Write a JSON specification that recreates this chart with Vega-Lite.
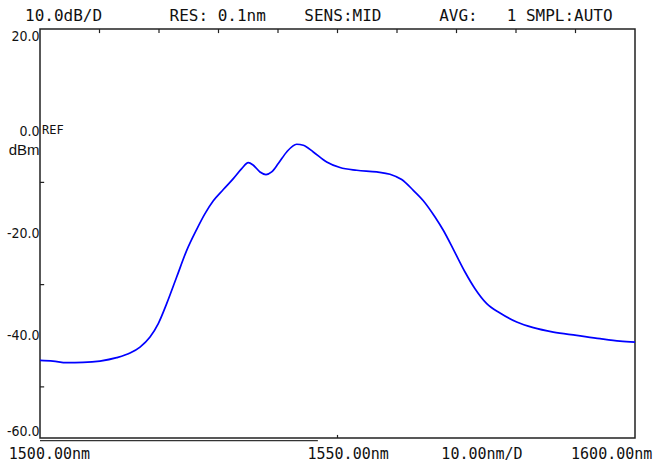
{
  "$schema": "https://vega.github.io/schema/vega-lite/v6.json",
  "autosize": "none",
  "width": 595,
  "height": 409,
  "padding": {"left": 40, "top": 29, "right": 19, "bottom": 27},
  "background": "white",
  "title": {
    "text": "10.0dB/D\u00a0\u00a0\u00a0\u00a0\u00a0\u00a0\u00a0RES:\u00a00.1nm\u00a0\u00a0\u00a0\u00a0SENS:MID\u00a0\u00a0\u00a0\u00a0\u00a0\u00a0AVG:\u00a0\u00a0\u00a01\u00a0SMPL:AUTO",
    "anchor": "start",
    "frame": "group",
    "dx": -15,
    "dy": 18,
    "font": "DejaVu Sans Mono",
    "fontSize": 16,
    "fontWeight": "normal",
    "color": "#111",
    "offset": 6,
    "baseline": "bottom"
  },
  "config": {
    "view": {"stroke": "#222", "strokeWidth": 1.5},
    "axis": {"grid": false}
  },
  "datasets": {
    "spectrum": [
      {"wl": 1500.0, "db": -44.81},
      {"wl": 1502.18, "db": -44.95},
      {"wl": 1504.49, "db": -45.26},
      {"wl": 1507.23, "db": -45.21},
      {"wl": 1510.08, "db": -44.95},
      {"wl": 1512.89, "db": -44.29},
      {"wl": 1515.13, "db": -43.39},
      {"wl": 1516.81, "db": -42.21},
      {"wl": 1518.49, "db": -40.25},
      {"wl": 1519.88, "db": -37.63},
      {"wl": 1521.29, "db": -33.72},
      {"wl": 1522.97, "db": -28.51},
      {"wl": 1524.66, "db": -23.29},
      {"wl": 1526.34, "db": -19.18},
      {"wl": 1527.73, "db": -16.11},
      {"wl": 1529.13, "db": -13.6},
      {"wl": 1530.81, "db": -11.4},
      {"wl": 1532.49, "db": -9.26},
      {"wl": 1533.9, "db": -7.3},
      {"wl": 1535.01, "db": -6.13},
      {"wl": 1535.85, "db": -6.65},
      {"wl": 1536.97, "db": -7.96},
      {"wl": 1537.98, "db": -8.47},
      {"wl": 1538.94, "db": -7.96},
      {"wl": 1540.05, "db": -6.32},
      {"wl": 1541.46, "db": -4.05},
      {"wl": 1543.14, "db": -2.54},
      {"wl": 1544.25, "db": -2.74},
      {"wl": 1545.93, "db": -4.05},
      {"wl": 1548.18, "db": -6.01},
      {"wl": 1550.42, "db": -7.1},
      {"wl": 1553.23, "db": -7.63},
      {"wl": 1556.59, "db": -7.96},
      {"wl": 1558.82, "db": -8.41},
      {"wl": 1560.79, "db": -9.45},
      {"wl": 1562.74, "db": -11.55},
      {"wl": 1564.42, "db": -13.58},
      {"wl": 1566.39, "db": -16.77},
      {"wl": 1567.78, "db": -19.37},
      {"wl": 1569.6, "db": -23.4},
      {"wl": 1571.43, "db": -27.53},
      {"wl": 1573.11, "db": -30.8},
      {"wl": 1575.08, "db": -33.72},
      {"wl": 1577.31, "db": -35.56},
      {"wl": 1580.12, "db": -37.32},
      {"wl": 1582.91, "db": -38.42},
      {"wl": 1586.27, "db": -39.28},
      {"wl": 1590.2, "db": -39.92},
      {"wl": 1594.12, "db": -40.57},
      {"wl": 1597.48, "db": -41.04},
      {"wl": 1600.0, "db": -41.23}
    ],
    "topTicks": [
      {"wl": 1510, "y1": 20, "y2": 19.2},
      {"wl": 1520, "y1": 20, "y2": 19.2},
      {"wl": 1530, "y1": 20, "y2": 19.2},
      {"wl": 1540, "y1": 20, "y2": 19.2},
      {"wl": 1550, "y1": 20, "y2": 19.2},
      {"wl": 1560, "y1": 20, "y2": 19.2},
      {"wl": 1570, "y1": 20, "y2": 19.2},
      {"wl": 1580, "y1": 20, "y2": 19.2},
      {"wl": 1590, "y1": 20, "y2": 19.2},
      {"wl": 1550, "y1": -60, "y2": -59.4}
    ],
    "leftTicks": [
      {"db": -10, "x1": 1500, "x2": 1500.7},
      {"db": -30, "x1": 1500, "x2": 1500.7},
      {"db": -50, "x1": 1500, "x2": 1500.7}
    ],
    "sweepBar": [
      {"x1": 1500, "x2": 1546.7, "db": -60.5}
    ],
    "refMark": [
      {"wl": 1500, "db": 0, "label": "REF"}
    ]
  },
  "layer": [
    {
      "data": {"name": "topTicks"},
      "mark": {"type": "rule", "color": "#222", "strokeWidth": 1.2},
      "encoding": {
        "x": {"field": "wl", "type": "quantitative", "scale": {"domain": [1500, 1600], "nice": false, "zero": false},
          "axis": {
            "orient": "bottom",
            "values": [1501.5, 1551.7, 1574.2, 1596],
            "labelExpr": "datum.value < 1520 ? '1500.00nm' : datum.value < 1560 ? '1550.00nm' : datum.value < 1590 ? '10.00nm/D' : '1600.00nm'",
            "ticks": false,
            "domain": false,
            "title": null,
            "labelFont": "DejaVu Sans Mono",
            "labelFontSize": 15,
            "labelColor": "#111",
            "labelPadding": 8,
            "labelFlush": false,
            "labelOverlap": false,
            "labelBound": false,
            "labelAlign": "center"
          }
        },
        "y": {"field": "y1", "type": "quantitative", "scale": {"domain": [-60, 20], "nice": false, "zero": false},
          "axis": {
            "values": [20, 0, -20, -40, -60],
            "labelExpr": "datum.value + '.0'",
            "ticks": false,
            "domain": false,
            "labelFont": "DejaVu Sans Condensed, DejaVu Sans",
            "labelFontSize": 14,
            "labelColor": "#111",
            "labelPadding": 1,
            "labelFlush": true,
            "title": "dBm",
            "titleAngle": 0,
            "titleAlign": "right",
            "titleBaseline": "top",
            "titleX": -1,
            "titleY": 113,
            "titleFont": "Liberation Sans",
            "titleFontSize": 15,
            "titleFontWeight": "normal",
            "titleColor": "#111"
          }
        },
        "y2": {"field": "y2"}
      }
    },
    {
      "data": {"name": "leftTicks"},
      "mark": {"type": "rule", "color": "#222", "strokeWidth": 1.2},
      "encoding": {
        "x": {"field": "x1", "type": "quantitative"},
        "x2": {"field": "x2"},
        "y": {"field": "db", "type": "quantitative"}
      }
    },
    {
      "data": {"name": "sweepBar"},
      "mark": {"type": "rule", "color": "#333", "strokeWidth": 1.2},
      "encoding": {
        "x": {"field": "x1", "type": "quantitative"},
        "x2": {"field": "x2"},
        "y": {"field": "db", "type": "quantitative"}
      }
    },
    {
      "data": {"name": "spectrum"},
      "mark": {"type": "line", "color": "#0000ff", "strokeWidth": 1.7, "interpolate": "monotone"},
      "encoding": {
        "x": {"field": "wl", "type": "quantitative"},
        "y": {"field": "db", "type": "quantitative"}
      }
    },
    {
      "data": {"name": "refMark"},
      "mark": {"type": "text", "align": "left", "baseline": "middle", "dx": 2, "dy": -1, "font": "DejaVu Sans Mono", "fontSize": 12, "color": "#111"},
      "encoding": {
        "x": {"field": "wl", "type": "quantitative"},
        "y": {"field": "db", "type": "quantitative"},
        "text": {"field": "label"}
      }
    }
  ]
}
